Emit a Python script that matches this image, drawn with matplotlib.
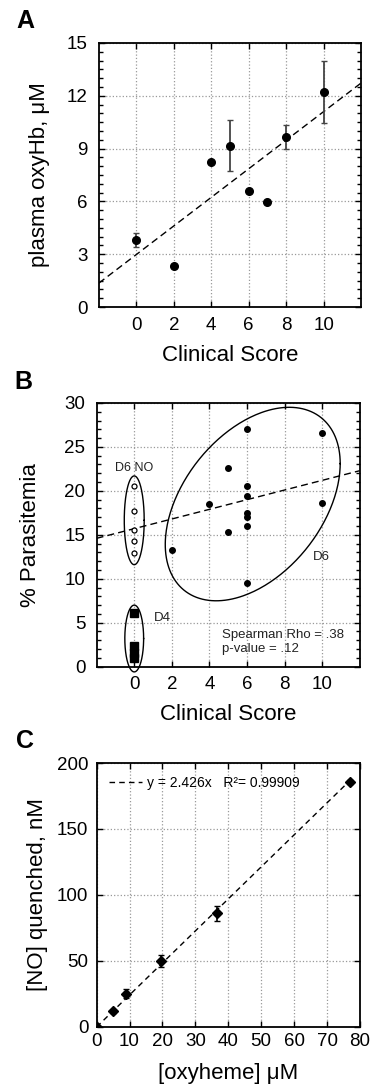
import numpy as np
import matplotlib
matplotlib.use('Agg')
import matplotlib.pyplot as plt
from matplotlib.ticker import MultipleLocator

plt.rcParams['font.family'] = ['Liberation Sans', 'DejaVu Sans']

# panel A: plasma oxyHb vs clinical score
score_a = [0, 2, 4, 5, 6, 7, 8, 10]
oxyhb = [3.8, 2.35, 8.25, 9.15, 6.6, 5.95, 9.65, 12.2]
oxyhb_err = [0.4, 0, 0, 1.45, 0, 0, 0.7, 1.75]

# panel B: parasitemia vs clinical score
d6_score = [2, 4, 5, 5, 6, 6, 6, 6, 6, 6, 6, 10, 10]
d6_para = [13.3, 18.5, 22.6, 15.3, 27.0, 20.5, 19.4, 17.5, 17.0, 16.0, 9.5, 26.6, 18.6]
d6no_score = [0, 0, 0, 0, 0]
d6no_para = [20.6, 17.7, 15.6, 14.3, 12.9]
d4_score = [0, 0, 0, 0]
d4_para = [6.1, 2.4, 1.5, 1.0]
fit_b = (0.55, 15.7)  # slope, intercept of dashed line

# panel C: NO quenched vs oxyheme
oxyheme = [0, 4.9, 9.0, 19.7, 36.6, 77.0]
no_quenched = [0, 11.8, 25.3, 50.2, 86.0, 185.6]
no_err = [0, 1.0, 3.5, 4.4, 6.0, 1.5]
slope_c = 2.426


def style_axes(ax):
    ax.grid(True, which='major', linestyle=':', color='#999999', linewidth=0.9)
    ax.set_axisbelow(True)
    for s in ax.spines.values():
        s.set_linewidth(1.3)
    ax.tick_params(which='both', direction='in', top=True, right=True,
                   labelsize=13.5, width=1.0)
    ax.tick_params(which='major', length=4)
    ax.tick_params(which='minor', length=3)


fig = plt.figure(figsize=(3.73, 10.9), dpi=100)

# ---- A ----
ax = fig.add_axes([0.265, 0.7183, 0.703, 0.2423])
style_axes(ax)
ax.errorbar(score_a, oxyhb, yerr=oxyhb_err, fmt='o', color='black', ms=5.5,
            ecolor='#444444', elinewidth=1.3, capsize=2, capthick=1, zorder=3)
k, b = np.polyfit(score_a, oxyhb, 1)
xx = np.array([-2, 12])
ax.plot(xx, k * xx + b, '--', color='black', lw=1.0, dashes=(5, 3))
ax.set_xlim(-2, 12)
ax.set_ylim(0, 15)
ax.set_xticks([0, 2, 4, 6, 8, 10])
ax.set_yticks([0, 3, 6, 9, 12, 15])
ax.yaxis.set_minor_locator(MultipleLocator(0.5))
ax.tick_params(axis='x', pad=7)
ax.tick_params(axis='y', pad=8)
ax.set_xlabel('Clinical Score', fontsize=16, labelpad=8)
ax.set_ylabel('plasma oxyHb, μM', fontsize=16, labelpad=12)

# ---- B ----
ax = fig.add_axes([0.259, 0.3884, 0.706, 0.2419])
style_axes(ax)
ax.plot(d6_score, d6_para, 'o', color='black', ms=4, zorder=3)
ax.plot(d6no_score, d6no_para, 'o', mfc='white', mec='black', mew=0.9, ms=3.6, zorder=3)
ax.plot(d4_score, d4_para, 's', color='black', ms=5.5, zorder=3)
xx = np.array([-2, 12])
ax.plot(xx, fit_b[0] * xx + fit_b[1], color='black', lw=1.0, dashes=(5, 3))

t = np.linspace(0, 2 * np.pi, 300)
# big D6 ellipse (affine image of a circle in data space)
ax.plot(6.3 + 4.65 * np.cos(t), 18.5 + 4.6 * np.cos(t) + 10.0 * np.sin(t),
        color='black', lw=1.0)
ax.plot(0.0 + 0.53 * np.cos(t), 16.65 + 5.05 * np.sin(t), color='black', lw=1.0)
ax.plot(0.0 + 0.5 * np.cos(t), 3.2 + 3.8 * np.sin(t), color='black', lw=1.0,
        clip_on=False)

ax.text(0.0, 22.6, 'D6 NO', fontsize=9, ha='center', va='center', color='#222222')
ax.text(9.97, 12.5, 'D6', fontsize=9.5, ha='center', va='center', color='#222222')
ax.text(1.5, 5.5, 'D4', fontsize=9.5, ha='center', va='center', color='#222222')
ax.text(4.65, 3.6, 'Spearman Rho = .38', fontsize=9.5, ha='left', va='center', color='#222222')
ax.text(4.65, 2.0, 'p-value = .12', fontsize=9.5, ha='left', va='center', color='#222222')

ax.set_xlim(-2, 12)
ax.set_ylim(0, 30)
ax.set_xticks([0, 2, 4, 6, 8, 10])
ax.set_yticks([0, 5, 10, 15, 20, 25, 30])
ax.yaxis.set_minor_locator(MultipleLocator(1))
ax.tick_params(axis='x', pad=7)
ax.tick_params(axis='y', pad=8)
ax.set_xlabel('Clinical Score', fontsize=16, labelpad=8)
ax.set_ylabel('% Parasitemia', fontsize=16, labelpad=17)

# ---- C ----
ax = fig.add_axes([0.259, 0.0578, 0.706, 0.2422])
style_axes(ax)
ax.errorbar(oxyheme, no_quenched, yerr=no_err, fmt='D', color='black', ms=5,
            elinewidth=1.2, capsize=2, capthick=1, zorder=3)
xx = np.array([0, oxyheme[-1]])
ax.plot(xx, slope_c * xx, color='black', lw=1.0, dashes=(4, 3),
        label='y = 2.426x   R²= 0.99909')
ax.legend(loc='upper left', frameon=False, fontsize=10, handlelength=2.4,
          handletextpad=0.3, borderaxespad=0.5)
ax.set_xlim(0, 80)
ax.set_ylim(0, 200)
ax.set_xticks(range(0, 81, 10))
ax.set_yticks([0, 50, 100, 150, 200])
ax.tick_params(axis='x', pad=4)
ax.tick_params(axis='y', pad=6)
ax.set_xlabel('[oxyheme] μM', fontsize=16, labelpad=10)
ax.set_ylabel('[NO] quenched, nM', fontsize=16, labelpad=6)

fig.text(0.067, 0.981, 'A', fontsize=18, fontweight='bold', ha='center', va='center')
fig.text(0.064, 0.6495, 'B', fontsize=18, fontweight='bold', ha='center', va='center')
fig.text(0.067, 0.3202, 'C', fontsize=18, fontweight='bold', ha='center', va='center')

fig.savefig('out.png', dpi=100)
